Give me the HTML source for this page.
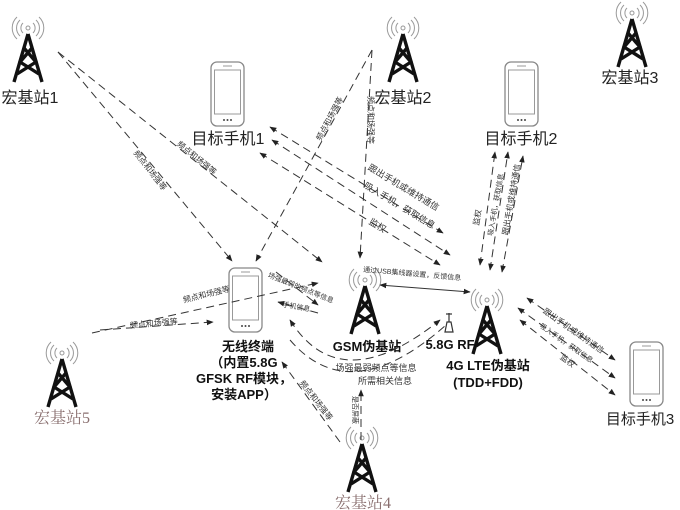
<!DOCTYPE html>
<html><head><meta charset="utf-8"><style>
html,body{margin:0;padding:0;background:#fff;}
svg{display:block;font-family:"Liberation Sans","Noto Sans CJK SC",sans-serif;}
</style></head><body>
<svg width="680" height="510" viewBox="0 0 680 510" xmlns="http://www.w3.org/2000/svg">
<defs>
<marker id="a" viewBox="0 0 10 10" refX="9" refY="5" markerWidth="7" markerHeight="7" orient="auto-start-reverse"><path d="M0,1 L10,5 L0,9 z" fill="#222"/></marker>
<g id="tw">
 <g fill="none" stroke="#999" stroke-width="1">
  <circle cx="0" cy="8" r="2"/>
  <path d="M-5,3 A7,7 0 0 0 -5,13 M5,3 A7,7 0 0 1 5,13"/>
  <path d="M-8,0 A11,11 0 0 0 -8,16 M8,0 A11,11 0 0 1 8,16"/>
  <path d="M-11,-3 A15,15 0 0 0 -11,19 M11,-3 A15,15 0 0 1 11,19"/>
 </g>
 <g stroke="#111" stroke-width="3.4" fill="none" stroke-linejoin="round">
  <path d="M0,14 L-14,62 M0,14 L14,62"/>
  <path d="M-4,28 L8,42 L-11,54 M4,28 L-8,42 L11,54"/>
 </g>
</g>
<g id="ph">
 <rect x="0" y="0" width="33" height="64" rx="6" fill="#fff" stroke="#888" stroke-width="1.3"/>
 <rect x="3.5" y="8" width="26" height="44" fill="none" stroke="#999" stroke-width="1"/>
 <line x1="12" y1="4" x2="21" y2="4" stroke="#999"/>
 <circle cx="13" cy="58" r="1" fill="#444"/><circle cx="16.5" cy="58" r="1" fill="#444"/><circle cx="20" cy="58" r="1" fill="#444"/>
</g>
</defs>

<use href="#tw" x="28" y="20"/>
<use href="#tw" x="403" y="20"/>
<use href="#tw" x="632" y="5"/>
<use href="#tw" x="62" y="345"/>
<use href="#tw" x="362" y="430"/>
<use href="#tw" x="365" y="272"/>
<use href="#tw" x="487" y="292"/>

<use href="#ph" x="211" y="62"/>
<use href="#ph" x="505" y="62"/>
<use href="#ph" x="630" y="342"/>
<use href="#ph" x="229" y="268"/>

<g stroke="#333" fill="none" stroke-width="1.2">
 <line x1="449" y1="313" x2="449" y2="322"/>
 <path d="M447,322 L445,332 L453,332 L451,322 z"/>
 <path d="M446,314 L452,314"/>
</g>

<g font-size="16" fill="#222" text-anchor="middle">
 <text x="30" y="103">宏基站1</text>
 <text x="403" y="103">宏基站2</text>
 <text x="630" y="83">宏基站3</text>
 <text x="228" y="144">目标手机1</text>
 <text x="521" y="144">目标手机2</text>
 <text x="640" y="424" font-size="15">目标手机3</text>
</g>
<g font-size="16" fill="#8a7070" text-anchor="middle" font-family="Liberation Serif,Noto Serif CJK SC,serif">
 <text x="62" y="423">宏基站5</text>
 <text x="363" y="508">宏基站4</text>
</g>
<g font-size="13" font-weight="bold" fill="#111" text-anchor="middle">
 <text x="248" y="351">无线终端</text>
 <text x="244" y="367">（内置5.8G</text>
 <text x="244" y="383">GFSK RF模块，</text>
 <text x="244" y="399">安装APP）</text>
 <text x="367" y="351">GSM伪基站</text>
 <text x="450" y="349">5.8G RF</text>
 <text x="488" y="370">4G LTE伪基站</text>
 <text x="488" y="387">(TDD+FDD)</text>
</g>

<g stroke="#333" stroke-width="1" fill="none" stroke-dasharray="8,5">
 <line x1="58" y1="52" x2="232" y2="261" marker-end="url(#a)"/>
 <line x1="58" y1="52" x2="322" y2="262" marker-end="url(#a)"/>
 <line x1="372" y1="50" x2="256" y2="261" marker-end="url(#a)"/>
 <line x1="372" y1="50" x2="360" y2="258" marker-end="url(#a)"/>
 <line x1="270" y1="127" x2="443" y2="233" marker-start="url(#a)" marker-end="url(#a)"/>
 <line x1="272" y1="140" x2="450" y2="255" marker-start="url(#a)" marker-end="url(#a)"/>
 <line x1="260" y1="153" x2="440" y2="265" marker-start="url(#a)" marker-end="url(#a)"/>
 <line x1="480" y1="265" x2="495" y2="152" marker-start="url(#a)" marker-end="url(#a)"/>
 <line x1="490" y1="270" x2="508" y2="152" marker-start="url(#a)" marker-end="url(#a)"/>
 <line x1="502" y1="272" x2="523" y2="156" marker-start="url(#a)" marker-end="url(#a)"/>
 <line x1="527" y1="298" x2="615" y2="360" marker-start="url(#a)" marker-end="url(#a)"/>
 <line x1="518" y1="308" x2="615" y2="378" marker-start="url(#a)" marker-end="url(#a)"/>
 <line x1="520" y1="320" x2="615" y2="395" marker-start="url(#a)" marker-end="url(#a)"/>
 <line x1="92" y1="333" x2="318" y2="283" marker-end="url(#a)"/>
 <line x1="100" y1="330" x2="213" y2="322" marker-end="url(#a)"/>
 <line x1="276" y1="272" x2="318" y2="305" marker-end="url(#a)"/>
 <line x1="318" y1="313" x2="278" y2="302" marker-end="url(#a)"/>
 <line x1="340" y1="442" x2="282" y2="362" marker-end="url(#a)"/>
 <line x1="361" y1="440" x2="361" y2="390" marker-end="url(#a)"/>
 <path d="M290,320 Q340,400 440,320" marker-start="url(#a)" marker-end="url(#a)"/>
 <path d="M290,340 Q350,410 446,325"/>
</g>
<line x1="380" y1="285" x2="470" y2="292" stroke="#333" stroke-width="1" marker-start="url(#a)" marker-end="url(#a)"/>

<g font-size="8" fill="#333" text-anchor="middle">
 <text transform="translate(148,172) rotate(52)">频点和场强等</text>
 <text transform="translate(195,160) rotate(39)">频点和场强等</text>
 <text transform="translate(332,120) rotate(-62)">频点和场强等</text>
 <text transform="translate(368,120) rotate(90)">频点和场强等</text>
 <text transform="translate(402,190) rotate(31)" font-size="9">跟出手机或维持通信</text>
 <text transform="translate(398,208) rotate(31)" font-size="9">吸入手机，获取信息</text>
 <text transform="translate(376,228) rotate(31)" font-size="9">监权</text>
 <text transform="translate(480,218) rotate(-80)">监权</text>
 <text transform="translate(498,205) rotate(-80)" font-size="7">吸入手机，获取信息</text>
 <text transform="translate(514,200) rotate(-80)">跟出手机或维持通信</text>
 <text transform="translate(572,333) rotate(35)">跟出手机或维持通信</text>
 <text transform="translate(565,345) rotate(35)" font-size="7">吸入手机，获取信息</text>
 <text transform="translate(566,363) rotate(35)">监权</text>
 <text transform="translate(412,276) rotate(5)" font-size="7">通过USB集线器设置，反馈信息</text>
 <text transform="translate(207,297) rotate(-14)">频点和场强等</text>
 <text transform="translate(154,326) rotate(-5)">频点和场强等</text>
 <text transform="translate(300,290) rotate(22)" font-size="7">场强最弱的频点等信息</text>
 <text transform="translate(296,309) rotate(10)" font-size="7">手机信息</text>
 <text transform="translate(314,402) rotate(52)">频点和场强等</text>
 <text x="376" y="371" font-size="9">场强最弱频点等信息</text>
 <text x="385" y="384" font-size="9">所需相关信息</text>
 <text transform="translate(353,410) rotate(90)" font-size="7">是否屏蔽</text>
</g>
</svg>
</body></html>
